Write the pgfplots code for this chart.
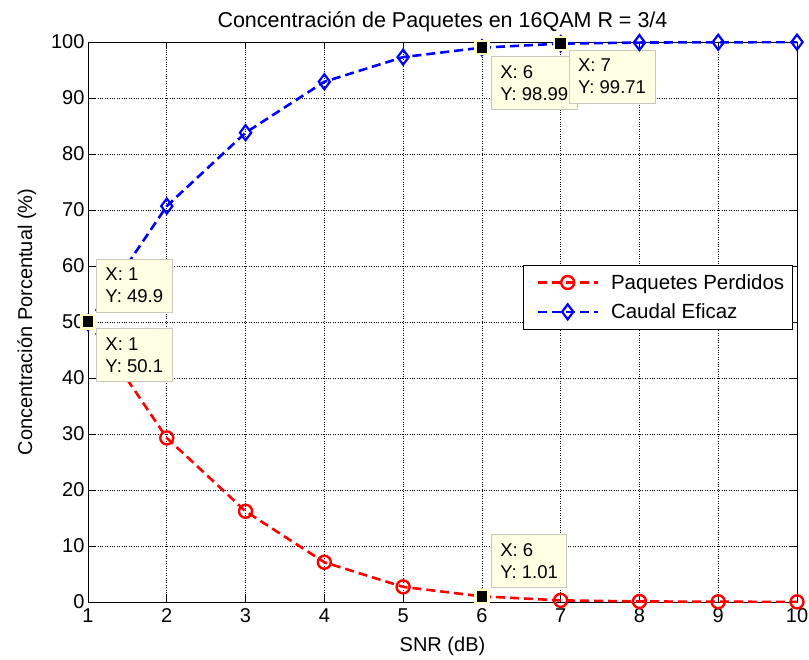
\documentclass[border=0pt]{standalone}
\usepackage{pgfplots}
\pgfplotsset{compat=1.18}
\usepackage{fontspec}
\setmainfont{Liberation Sans}
\definecolor{tipfill}{RGB}{255,255,228}
\definecolor{tipedge}{RGB}{200,200,190}
\definecolor{tipmark}{RGB}{255,255,200}
\begin{document}
\begin{tikzpicture}[x=1pt,y=1pt]
\begin{axis}[
  name=ax,
  scale only axis,
  width=709pt, height=560pt,
  xmin=1, xmax=10, ymin=0, ymax=100,
  xtick={1,...,10}, ytick={0,10,...,100},
  grid=major,
  major grid style={dotted, black, line width=0.7pt},
  tick align=inside,
  major tick length=7pt,
  axis line style={line width=0.9pt},
  every tick/.style={black, line width=0.9pt},
  tick label style={font=\fontsize{20}{24}\selectfont},
  xticklabel style={yshift=-3pt},
  /pgf/number format/assume math mode=true,
  xlabel={SNR (dB)},
  ylabel={Concentración Porcentual (\%)},
  label style={font=\fontsize{20}{24}\selectfont},
  title={Concentración de Paquetes en 16QAM R = 3/4},
  title style={font=\fontsize{21.5}{25}\selectfont, yshift=1pt},
  xlabel style={yshift=-7pt},
  ylabel style={yshift=8pt},
  legend style={at={(0.6135,0.602)}, anchor=north west, font=\fontsize{20.5}{24}\selectfont,
    draw=black, line width=0.9pt, inner xsep=6pt, inner ysep=7pt, row sep=9pt,
    cells={anchor=west}},
  legend image code/.code={\path (-7pt,0pt) (70pt,0pt);\draw[mark repeat=2,mark phase=2] plot coordinates {(0pt,0pt) (30pt,0pt) (60pt,0pt)};},
]
\addplot[red, line width=2.6pt, dash pattern=on 9pt off 5pt, mark=o, mark size=6.5pt,
  mark options={solid, line width=2.4pt}]
  coordinates {(1,50.1) (2,29.3) (3,16.2) (4,7.1) (5,2.7) (6,1.01) (7,0.29) (8,0.1) (9,0.05) (10,0.02)};
\addlegendentry{Paquetes Perdidos}
\addplot[blue, line width=2.6pt, dash pattern=on 9pt off 5pt, mark=diamond, mark size=7.5pt,
  mark options={solid, line width=2.2pt}]
  coordinates {(1,49.9) (2,70.7) (3,83.8) (4,92.9) (5,97.3) (6,98.99) (7,99.71) (8,99.9) (9,99.95) (10,99.98)};
\addlegendentry{Caudal Eficaz}
% data tip markers
\addplot[only marks, mark=square*, mark size=6.5pt, mark options={fill=black, draw=tipmark, line width=2.5pt}, forget plot]
  coordinates {(1,49.9) (1,50.1) (6,98.99) (7,99.71) (6,1.01)};
% data tip boxes
\tikzset{tip/.style={draw=tipedge, fill=tipfill, line width=0.9pt, align=left,
  font=\fontsize{18.5}{22}\selectfont, inner xsep=9pt, inner ysep=9pt}}
\node[tip, anchor=south west] at ([xshift=8pt,yshift=10pt]axis cs:1,49.9) {X: 1\\Y: 49.9};
\node[tip, anchor=north west] at ([xshift=8pt,yshift=-7pt]axis cs:1,50.1) {X: 1\\Y: 50.1};
\node[tip, anchor=north west] at ([xshift=9pt,yshift=-8pt]axis cs:6,98.99) {X: 6\\Y: 98.99};
\node[tip, anchor=north west] at ([xshift=8pt,yshift=-6pt]axis cs:7,99.71) {X: 7\\Y: 99.71};
\node[tip, anchor=south west] at ([xshift=9pt,yshift=8pt]axis cs:6,1.01) {X: 6\\Y: 1.01};
\end{axis}
\pgfresetboundingbox
\useasboundingbox ([xshift=-88pt,yshift=-57pt]ax.south west) rectangle ([xshift=12pt,yshift=42pt]ax.north east);
\end{tikzpicture}
\end{document}
